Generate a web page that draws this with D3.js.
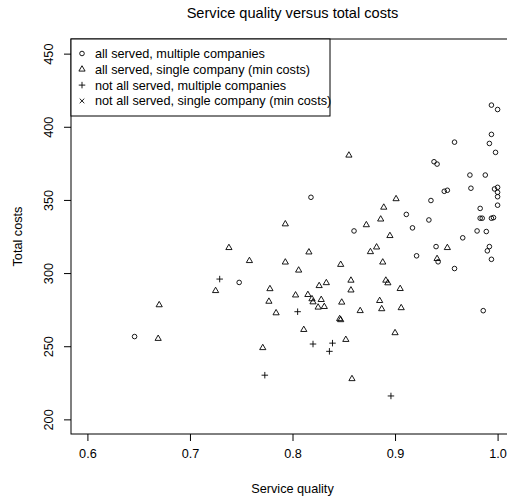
<!DOCTYPE html>
<html>
<head>
<meta charset="utf-8">
<script src="https://cdn.jsdelivr.net/npm/d3@7"></script>
<style>
  body { margin: 0; background: #fff; }
  text { font-family: "Liberation Sans", Arial, sans-serif; fill: #000; }
</style>
</head>
<body>
<div id="chart"></div>
<script>
// all served, multiple companies (circles)
const allMultiQuality = [0.994, 1.000, 0.994, 0.992, 0.998, 0.958, 0.938, 0.941, 0.973, 0.988,
  0.974, 0.997, 1.000, 1.000, 1.000, 1.000, 0.948, 0.951, 0.818, 0.935,
  0.983, 0.911, 0.933, 0.983, 0.985, 0.994, 0.996, 0.917, 0.860, 0.980,
  0.989, 0.966, 0.940, 0.992, 0.990, 0.994, 0.921, 0.942, 0.958, 0.986,
  0.748, 0.646];
const allMultiCosts = [414.8, 411.8, 394.8, 388.6, 382.5, 389.5, 376.1, 374.5, 367.0, 367.0,
  358.0, 357.5, 358.6, 355.2, 352.2, 346.4, 355.9, 356.6, 351.8, 349.6,
  344.2, 340.1, 336.3, 337.5, 337.5, 337.5, 337.9, 330.9, 328.8, 328.8,
  328.4, 324.1, 318.1, 318.1, 315.2, 309.4, 311.8, 307.7, 303.1, 274.3,
  293.6, 256.6];

// all served, single company (min costs) (triangles)
const allSingleQuality = [0.855, 0.901, 0.889, 0.886, 0.872, 0.895, 0.882, 0.876, 0.951, 0.941,
  0.816, 0.793, 0.806, 0.847, 0.888, 0.826, 0.833, 0.857, 0.891, 0.893,
  0.857, 0.905, 0.803, 0.815, 0.819, 0.820, 0.828, 0.825, 0.831, 0.848,
  0.885, 0.887, 0.866, 0.906, 0.846, 0.847, 0.811, 0.852, 0.900, 0.858,
  0.738, 0.758, 0.793, 0.725, 0.778, 0.777, 0.784, 0.670, 0.669, 0.771];
const allSingleCosts = [380.5, 350.7, 344.9, 336.8, 332.9, 325.5, 317.7, 314.5, 317.3, 309.8,
  314.3, 307.4, 301.9, 305.8, 307.4, 291.3, 293.3, 295.0, 295.0, 293.2,
  288.3, 289.3, 284.9, 285.2, 282.3, 280.2, 281.8, 276.6, 277.0, 280.0,
  281.1, 275.5, 274.2, 276.2, 268.7, 268.0, 261.3, 254.5, 259.1, 227.7,
  317.3, 308.4, 333.5, 287.9, 289.2, 280.6, 272.7, 278.2, 255.2, 248.9];

// not all served, multiple companies (plus)
const notAllMultiQuality = [0.729, 0.773, 0.805, 0.820, 0.839, 0.836, 0.896];
const notAllMultiCosts = [295.9, 230.2, 273.6, 251.5, 252.1, 246.5, 216.0];

// not all served, single company (min costs) (cross) - none visible
const notAllSingleQuality = [];
const notAllSingleCosts = [];

const xTicks = [0.6, 0.7, 0.8, 0.9, 1.0];
const yTicks = [200, 250, 300, 350, 400, 450];
const legendLabels = [
  "all served, multiple companies",
  "all served, single company (min costs)",
  "not all served, multiple companies",
  "not all served, single company (min costs)"
];

const width = 507, height = 502;
const margins = { top: 39, bottom: 68, left: 71, right: -7 };

const svg = d3.select("#chart").append("svg")
  .attr("width", width)
  .attr("height", height);

const xScale = d3.scaleLinear()
  .domain([0.584, 1.016])
  .range([margins.left, width - margins.right]);

const yScale = d3.scaleLinear()
  .domain([190, 460])
  .range([height - margins.bottom, margins.top]);

// symbol paths, sized like R's pch at cex = 1 here
const R = 2.3;
const shapes = {
  circle: () => `M${R},0A${R},${R} 0 1,1 ${-R},0A${R},${R} 0 1,1 ${R},0Z`,
  triangle: () => `M0,${-1.555 * R}L${1.347 * R},${0.778 * R}L${-1.347 * R},${0.778 * R}Z`,
  plus: () => `M${-1.414 * R},0H${1.414 * R}M0,${-1.414 * R}V${1.414 * R}`,
  cross: () => `M${-R},${-R}L${R},${R}M${-R},${R}L${R},${-R}`
};

const series = [
  { shape: "circle", x: allMultiQuality, y: allMultiCosts },
  { shape: "triangle", x: allSingleQuality, y: allSingleCosts },
  { shape: "plus", x: notAllMultiQuality, y: notAllMultiCosts },
  { shape: "cross", x: notAllSingleQuality, y: notAllSingleCosts }
];

// title
svg.append("text")
  .attr("x", (xScale.range()[0] + xScale.range()[1]) / 2)
  .attr("y", 18)
  .attr("text-anchor", "middle")
  .attr("font-size", 14.6)
  .text("Service quality versus total costs");

// axes
const xAxis = d3.axisBottom(xScale).tickValues(xTicks).tickSize(7).tickPadding(8)
  .tickFormat(d3.format(".1f"));
svg.append("g")
  .attr("transform", `translate(0,${yScale(190)})`)
  .call(xAxis)
  .call(g => g.select(".domain").remove())
  .call(g => g.selectAll("text").attr("font-size", 12.7).attr("font-family", null));

const yAxis = d3.axisLeft(yScale).tickValues(yTicks).tickSize(7).tickFormat(d3.format("d"));
svg.append("g")
  .attr("transform", `translate(${xScale(0.584)},0)`)
  .call(yAxis)
  .call(g => g.select(".domain").remove())
  .call(g => g.selectAll("text")
    .attr("font-size", 12.7)
    .attr("font-family", null)
    .attr("x", null).attr("dy", null)
    .attr("text-anchor", "middle")
    .attr("transform", "translate(-22,0) rotate(-90)")
    .attr("dy", "0.35em"));

svg.selectAll(".tick line").attr("stroke", "#000");

// box
svg.append("rect")
  .attr("x", xScale(0.584))
  .attr("y", yScale(460))
  .attr("width", xScale(1.016) - xScale(0.584))
  .attr("height", yScale(190) - yScale(460))
  .attr("fill", "none")
  .attr("stroke", "#000")
  .attr("stroke-width", 1);

// axis labels
svg.append("text")
  .attr("x", (xScale.range()[0] + xScale.range()[1]) / 2)
  .attr("y", 493)
  .attr("text-anchor", "middle")
  .attr("font-size", 12.7)
  .text("Service quality");

svg.append("text")
  .attr("transform", `translate(22,${(yScale.range()[0] + yScale.range()[1]) / 2}) rotate(-90)`)
  .attr("text-anchor", "middle")
  .attr("font-size", 12.7)
  .text("Total costs");

// points
const pts = svg.append("g")
  .attr("fill", "none")
  .attr("stroke", "#000")
  .attr("stroke-width", 0.9);

series.forEach(s => {
  pts.selectAll(null)
    .data(d3.range(s.x.length))
    .join("path")
    .attr("transform", i => `translate(${xScale(s.x[i])},${yScale(s.y[i])})`)
    .attr("d", shapes[s.shape]);
});

// legend
const legend = svg.append("g");
const legX = xScale(0.584), legY = yScale(460);
legend.append("rect")
  .attr("x", legX)
  .attr("y", legY)
  .attr("width", 259)
  .attr("height", 77)
  .attr("fill", "#fff")
  .attr("stroke", "#000")
  .attr("stroke-width", 1);

legendLabels.forEach((lab, i) => {
  const cy = legY + 14.5 + i * 15.8;
  legend.append("path")
    .attr("transform", `translate(${legX + 11},${cy})`)
    .attr("d", shapes[series[i].shape])
    .attr("fill", "none")
    .attr("stroke", "#000")
    .attr("stroke-width", 0.9);
  legend.append("text")
    .attr("x", legX + 24)
    .attr("y", cy)
    .attr("dy", "0.35em")
    .attr("font-size", 12.7)
    .text(lab);
});
</script>
</body>
</html>
